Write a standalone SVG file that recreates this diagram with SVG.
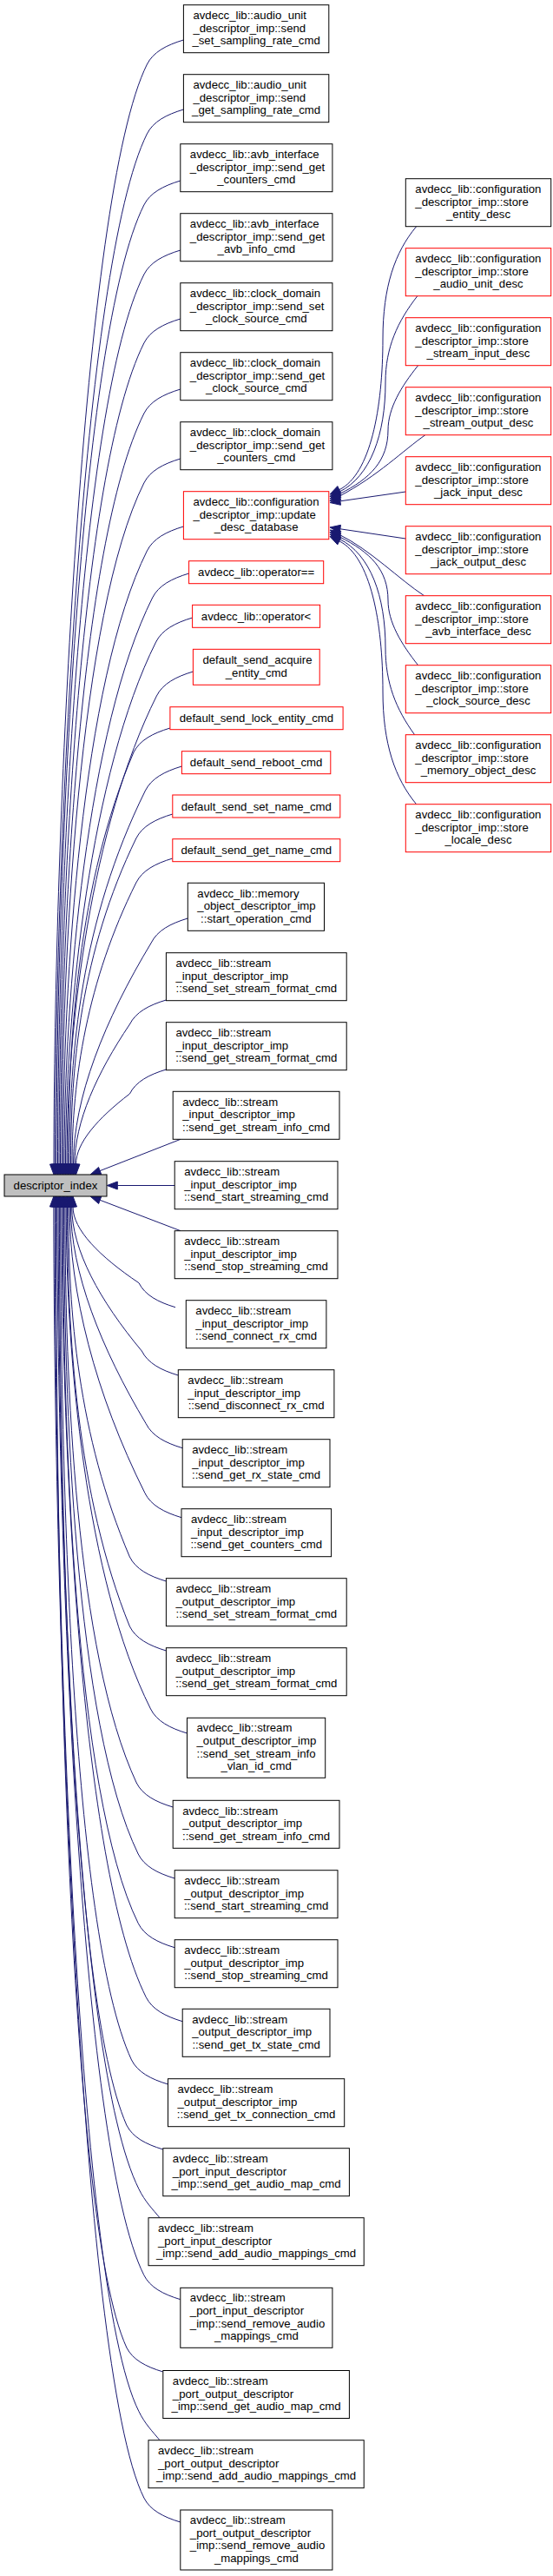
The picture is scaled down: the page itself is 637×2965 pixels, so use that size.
<svg xmlns="http://www.w3.org/2000/svg" width="637" height="2965" viewBox="0 0 637 2965">
<style>
text{font-family:"Liberation Sans",Arial,Helvetica,sans-serif;font-size:13.2px;fill:#000}
.m{text-anchor:middle}
.n{fill:#fff;stroke:#000;stroke-width:1}
.r{fill:#fff;stroke:#ff0000;stroke-width:1}
.g{fill:#bfbfbf;stroke:#000;stroke-width:1}
.e path{fill:none;stroke:#191970;stroke-width:1}
.e polygon{fill:#191970;stroke:#191970;stroke-width:1}
</style>
<rect x="0" y="0" width="637" height="2965" fill="#fff"/>
<g id="edges" class="e">
<path d="M211.4,46 C191.4,52 176.4,60 169.4,74 C94.4,224 62,960.2 62,1340"/><polygon points="57.5,1340 62,1352 66.5,1340"/>
<path d="M211.4,126 C191.4,132 176.4,140 169.4,154 C94.4,304 63.5,984.2 63.5,1340"/><polygon points="59,1340 63.5,1352 68,1340"/>
<path d="M207.8,208 C187.8,214 172.8,222 165.8,236 C90.8,386 65,1008.8 65,1340"/><polygon points="60.5,1340 65,1352 69.5,1340"/>
<path d="M207.8,288 C187.8,294 172.8,302 165.8,316 C90.8,466 66.5,1032.8 66.5,1340"/><polygon points="62,1340 66.5,1352 71,1340"/>
<path d="M207.8,367 C187.8,373 172.8,381 165.8,395 C90.8,545 68,1056.5 68,1340"/><polygon points="63.5,1340 68,1352 72.5,1340"/>
<path d="M207.8,448 C187.8,454 172.8,462 165.8,476 C90.8,626 69.5,1080.8 69.5,1340"/><polygon points="65,1340 69.5,1352 74,1340"/>
<path d="M207.8,528 C187.8,534 172.8,542 165.8,556 C90.8,706 71,1104.8 71,1340"/><polygon points="66.5,1340 71,1352 75.5,1340"/>
<path d="M211.4,606 C191.4,612 176.4,620 169.4,634 C94.4,784 72.5,1128.2 72.5,1340"/><polygon points="68,1340 72.5,1352 77,1340"/>
<path d="M217.6,660 C197.6,666 182.6,674 175.6,688 C100.6,838 74,1144.4 74,1340"/><polygon points="69.5,1340 74,1352 78.5,1340"/>
<path d="M221.6,711 C201.6,717 186.6,725 179.6,739 C104.6,889 75.5,1159.7 75.5,1340"/><polygon points="71,1340 75.5,1352 80,1340"/>
<path d="M222.4,773 C202.4,779 187.4,787 180.4,801 C105.4,951 77,1178.3 77,1340"/><polygon points="72.5,1340 77,1352 81.5,1340"/>
<path d="M195.9,838 C175.9,844 160.9,852 153.9,866 C89.8,1016 78.5,1197.8 78.5,1340"/><polygon points="74,1340 78.5,1352 83,1340"/>
<path d="M209.4,882 C189.4,888 174.4,896 167.4,910 C93.1,1060 80,1211 80,1340"/><polygon points="75.5,1340 80,1352 84.5,1340"/>
<path d="M198.8,937 C178.8,943 163.8,951 156.8,965 C92.8,1096.3 81.5,1227.5 81.5,1340"/><polygon points="77,1340 81.5,1352 86,1340"/>
<path d="M198.8,988 C178.8,994 163.8,1002 156.8,1016 C100.1,1129.4 83,1242.8 83,1340"/><polygon points="78.5,1340 83,1352 87.5,1340"/>
<path d="M216.3,1057 C196.3,1063 181.3,1071 174.3,1085 C120.4,1174.3 84.5,1263.5 84.5,1340"/><polygon points="80,1340 84.5,1352 89,1340"/>
<path d="M191.4,1151 C171.4,1157 156.4,1165 149.4,1179 C111.4,1235.4 86,1291.7 86,1340"/><polygon points="81.5,1340 86,1352 90.5,1340"/>
<path d="M191.4,1231 C171.4,1237 156.4,1245 149.4,1259 C112.3,1287.4 87.5,1315.7 87.5,1340"/><polygon points="83,1340 87.5,1352 92,1340"/>
<path d="M208,1311.3 L115.2,1347.6"/><polygon points="113.5,1343.4 104,1352 116.8,1351.8"/>
<path d="M201.2,1364.5 L135.3,1364.5"/><polygon points="135.3,1360 123.3,1364.5 135.3,1369"/>
<path d="M208,1416.7 L115.2,1381.3"/><polygon points="116.8,1377.1 104,1377 113.6,1385.5"/>
<path d="M202,1504.7 C182,1498.7 167,1490.7 160,1476.7 C114.4,1446 84,1415.3 84,1389"/><polygon points="79.5,1389 84,1377 88.5,1389"/>
<path d="M205.3,1583 C185.3,1577 170.3,1569 163.3,1555 C114.9,1496.9 82.7,1438.8 82.7,1389"/><polygon points="78.2,1389 82.7,1377 87.2,1389"/>
<path d="M210.2,1666.7 C190.2,1660.7 175.2,1652.7 168.2,1638.7 C116.1,1551.3 81.4,1463.9 81.4,1389"/><polygon points="76.9,1389 81.4,1377 85.9,1389"/>
<path d="M209,1746.7 C189,1740.7 174,1732.7 167,1718.7 C109.3,1603.3 80.1,1487.9 80.1,1389"/><polygon points="75.6,1389 80.1,1377 84.6,1389"/>
<path d="M191.4,1820 C171.4,1814 156.4,1806 149.4,1792 C89.4,1651 78.8,1509.9 78.8,1389"/><polygon points="74.3,1389 78.8,1377 83.3,1389"/>
<path d="M191.4,1900 C171.4,1894 156.4,1886 149.4,1872 C88.3,1722 77.5,1533.9 77.5,1389"/><polygon points="73,1389 77.5,1377 82,1389"/>
<path d="M215.5,1995 C195.5,1989 180.5,1981 173.5,1967 C98.5,1817 76.2,1562.4 76.2,1389"/><polygon points="71.7,1389 76.2,1377 80.7,1389"/>
<path d="M199.2,2080 C179.2,2074 164.2,2066 157.2,2052 C87.2,1902 74.9,1587.9 74.9,1389"/><polygon points="70.4,1389 74.9,1377 79.4,1389"/>
<path d="M201.2,2162 C181.2,2156 166.2,2148 159.2,2134 C86.4,1984 73.6,1612.5 73.6,1389"/><polygon points="69.1,1389 73.6,1377 78.1,1389"/>
<path d="M201.2,2241.7 C181.2,2235.7 166.2,2227.7 159.2,2213.7 C85.3,2063.7 72.3,1636.4 72.3,1389"/><polygon points="67.8,1389 72.3,1377 76.8,1389"/>
<path d="M210.2,2326.7 C190.2,2320.7 175.2,2312.7 168.2,2298.7 C93.2,2148.7 71,1661.9 71,1389"/><polygon points="66.5,1389 71,1377 75.5,1389"/>
<path d="M193.5,2399 C173.5,2393 158.5,2385 151.5,2371 C82,2221 69.7,1683.6 69.7,1389"/><polygon points="65.2,1389 69.7,1377 74.2,1389"/>
<path d="M187.8,2474 C167.8,2468 152.8,2460 145.8,2446 C80,2296 68.4,1706.1 68.4,1389"/><polygon points="63.9,1389 68.4,1377 72.9,1389"/>
<path d="M184,2552.7 C176,2543 167,2534 160,2519.7 C85,2369.7 67.1,1728.2 67.1,1389"/><polygon points="62.6,1389 67.1,1377 71.6,1389"/>
<path d="M207.8,2646.7 C187.8,2640.7 172.8,2632.7 165.8,2618.7 C90.8,2468.7 65.8,1757.9 65.8,1389"/><polygon points="61.3,1389 65.8,1377 70.3,1389"/>
<path d="M187.8,2730 C167.8,2724 152.8,2716 145.8,2702 C76.7,2552 64.5,1782.9 64.5,1389"/><polygon points="60,1389 64.5,1377 69,1389"/>
<path d="M184,2808.7 C176,2799 167,2790 160,2775.7 C85,2625.7 63.2,1805 63.2,1389"/><polygon points="58.7,1389 63.2,1377 67.7,1389"/>
<path d="M207.8,2903 C187.8,2897 172.8,2889 165.8,2875 C90.8,2725 61.9,1834.8 61.9,1389"/><polygon points="57.4,1389 61.9,1377 66.4,1389"/>
<path d="M479.6,260.7 C455,290 441,330 441,390 C441,470 426.7,546 390.8,563.7"/><polygon points="388.8,559.6 380,569 392.8,567.7"/>
<path d="M480.8,340.7 C458,370 444,400 444,440 C444,500 426.7,548.5 390.8,566.2"/><polygon points="388.8,562.1 380,571.5 392.8,570.2"/>
<path d="M481.6,420.7 C462,445 447,470 447,495 C447,530 426.7,551 390.8,568.7"/><polygon points="388.8,564.6 380,574 392.8,572.7"/>
<path d="M489.8,500.7 C465,518 435,548 390.8,571.2"/><polygon points="388.8,567.1 380,576.5 392.8,575.2"/>
<path d="M467.3,566 L391.9,576.8"/><polygon points="391.3,572.3 380,578.5 392.5,581.3"/>
<path d="M467.3,620 L391.9,608.8"/><polygon points="392.5,604.3 380,607 391.2,613.2"/>
<path d="M488.6,685.7 C460,667 426.7,633 390.8,615.3"/><polygon points="392.8,611.3 380,610 388.8,619.4"/>
<path d="M481.6,765.7 C462,741 447,716 447,691 C447,656 426.7,635.5 390.8,617.8"/><polygon points="392.8,613.8 380,612.5 388.8,621.9"/>
<path d="M477.6,845.7 C456,816 444,786 444,746 C444,686 426.7,638 390.8,620.3"/><polygon points="392.8,616.3 380,615 388.8,624.4"/>
<path d="M479.6,925.7 C455,896 441,856 441,796 C441,716 426.7,640.5 390.8,622.8"/><polygon points="392.8,618.8 380,617.5 388.8,626.9"/>
</g>
<g id="n0"><rect class="g" x="5" y="1352" width="118" height="25"/><text class="m" x="64" y="1369">descriptor_index</text></g>
<g id="n1"><rect class="n" x="211.4" y="5.7" width="167.4" height="55"/><text x="222.4" y="22">avdecc_lib::audio_unit</text><text x="222.4" y="36.7">_descriptor_imp::send</text><text class="m" x="295.1" y="51.4">_set_sampling_rate_cmd</text></g>
<g id="n2"><rect class="n" x="211.4" y="85.7" width="167.4" height="55"/><text x="222.4" y="102">avdecc_lib::audio_unit</text><text x="222.4" y="116.7">_descriptor_imp::send</text><text class="m" x="295.1" y="131.4">_get_sampling_rate_cmd</text></g>
<g id="n3"><rect class="n" x="207.8" y="165.7" width="175.1" height="55"/><text x="218.8" y="182">avdecc_lib::avb_interface</text><text x="218.8" y="196.7">_descriptor_imp::send_get</text><text class="m" x="295.35" y="211.4">_counters_cmd</text></g>
<g id="n4"><rect class="n" x="207.8" y="245.7" width="175.1" height="55"/><text x="218.8" y="262">avdecc_lib::avb_interface</text><text x="218.8" y="276.7">_descriptor_imp::send_get</text><text class="m" x="295.35" y="291.4">_avb_info_cmd</text></g>
<g id="n5"><rect class="n" x="207.8" y="325.7" width="175.1" height="55"/><text x="218.8" y="342">avdecc_lib::clock_domain</text><text x="218.8" y="356.7">_descriptor_imp::send_set</text><text class="m" x="295.35" y="371.4">_clock_source_cmd</text></g>
<g id="n6"><rect class="n" x="207.8" y="405.7" width="175.1" height="55"/><text x="218.8" y="422">avdecc_lib::clock_domain</text><text x="218.8" y="436.7">_descriptor_imp::send_get</text><text class="m" x="295.35" y="451.4">_clock_source_cmd</text></g>
<g id="n7"><rect class="n" x="207.8" y="485.7" width="175.1" height="55"/><text x="218.8" y="502">avdecc_lib::clock_domain</text><text x="218.8" y="516.7">_descriptor_imp::send_get</text><text class="m" x="295.35" y="531.4">_counters_cmd</text></g>
<g id="n8"><rect class="r" x="211.4" y="565.7" width="167.4" height="55"/><text x="222.4" y="582">avdecc_lib::configuration</text><text x="222.4" y="596.7">_descriptor_imp::update</text><text class="m" x="295.1" y="611.4">_desc_database</text></g>
<g id="n9"><rect class="r" x="217.6" y="645.7" width="155.1" height="26"/><text class="m" x="295.15" y="663.2">avdecc_lib::operator==</text></g>
<g id="n10"><rect class="r" x="221.6" y="696.3" width="147" height="26"/><text class="m" x="295.1" y="713.8">avdecc_lib::operator&lt;</text></g>
<g id="n11"><rect class="r" x="222.4" y="747.3" width="145.8" height="41"/><text x="233.4" y="763.9">default_send_acquire</text><text class="m" x="295.3" y="778.6">_entity_cmd</text></g>
<g id="n12"><rect class="r" x="195.9" y="813.7" width="199.2" height="26"/><text class="m" x="295.5" y="831.2">default_send_lock_entity_cmd</text></g>
<g id="n13"><rect class="r" x="209.4" y="864.7" width="171.4" height="26"/><text class="m" x="295.1" y="882.2">default_send_reboot_cmd</text></g>
<g id="n14"><rect class="r" x="198.8" y="915" width="193" height="26"/><text class="m" x="295.3" y="932.5">default_send_set_name_cmd</text></g>
<g id="n15"><rect class="r" x="198.8" y="965.7" width="193" height="26"/><text class="m" x="295.3" y="983.2">default_send_get_name_cmd</text></g>
<g id="n16"><rect class="n" x="216.3" y="1016.3" width="157.2" height="55"/><text x="227.3" y="1032.6">avdecc_lib::memory</text><text x="227.3" y="1047.3">_object_descriptor_imp</text><text class="m" x="294.9" y="1062">::start_operation_cmd</text></g>
<g id="n17"><rect class="n" x="191.4" y="1096.7" width="207.8" height="55"/><text x="202.4" y="1113">avdecc_lib::stream</text><text x="202.4" y="1127.7">_input_descriptor_imp</text><text class="m" x="295.3" y="1142.4">::send_set_stream_format_cmd</text></g>
<g id="n18"><rect class="n" x="191.4" y="1176.7" width="207.8" height="55"/><text x="202.4" y="1193">avdecc_lib::stream</text><text x="202.4" y="1207.7">_input_descriptor_imp</text><text class="m" x="295.3" y="1222.4">::send_get_stream_format_cmd</text></g>
<g id="n19"><rect class="n" x="199.2" y="1256.3" width="191.8" height="55"/><text x="210.2" y="1272.6">avdecc_lib::stream</text><text x="210.2" y="1287.3">_input_descriptor_imp</text><text class="m" x="295.1" y="1302">::send_get_stream_info_cmd</text></g>
<g id="n20"><rect class="n" x="201.2" y="1336.7" width="187.8" height="55"/><text x="212.2" y="1353">avdecc_lib::stream</text><text x="212.2" y="1367.7">_input_descriptor_imp</text><text class="m" x="295.1" y="1382.4">::send_start_streaming_cmd</text></g>
<g id="n21"><rect class="n" x="201.2" y="1416.7" width="187.8" height="55"/><text x="212.2" y="1433">avdecc_lib::stream</text><text x="212.2" y="1447.7">_input_descriptor_imp</text><text class="m" x="295.1" y="1462.4">::send_stop_streaming_cmd</text></g>
<g id="n22"><rect class="n" x="214.3" y="1496.7" width="161.6" height="55"/><text x="225.3" y="1513">avdecc_lib::stream</text><text x="225.3" y="1527.7">_input_descriptor_imp</text><text class="m" x="295.1" y="1542.4">::send_connect_rx_cmd</text></g>
<g id="n23"><rect class="n" x="205.3" y="1576.7" width="179.6" height="55"/><text x="216.3" y="1593">avdecc_lib::stream</text><text x="216.3" y="1607.7">_input_descriptor_imp</text><text class="m" x="295.1" y="1622.4">::send_disconnect_rx_cmd</text></g>
<g id="n24"><rect class="n" x="210.2" y="1656.7" width="169.8" height="55"/><text x="221.2" y="1673">avdecc_lib::stream</text><text x="221.2" y="1687.7">_input_descriptor_imp</text><text class="m" x="295.1" y="1702.4">::send_get_rx_state_cmd</text></g>
<g id="n25"><rect class="n" x="209" y="1736.7" width="172.6" height="55"/><text x="220" y="1753">avdecc_lib::stream</text><text x="220" y="1767.7">_input_descriptor_imp</text><text class="m" x="295.3" y="1782.4">::send_get_counters_cmd</text></g>
<g id="n26"><rect class="n" x="191.4" y="1816.7" width="207.8" height="55"/><text x="202.4" y="1833">avdecc_lib::stream</text><text x="202.4" y="1847.7">_output_descriptor_imp</text><text class="m" x="295.3" y="1862.4">::send_set_stream_format_cmd</text></g>
<g id="n27"><rect class="n" x="191.4" y="1896.7" width="207.8" height="55"/><text x="202.4" y="1913">avdecc_lib::stream</text><text x="202.4" y="1927.7">_output_descriptor_imp</text><text class="m" x="295.3" y="1942.4">::send_get_stream_format_cmd</text></g>
<g id="n28"><rect class="n" x="215.5" y="1977.3" width="159.2" height="69"/><text x="226.5" y="1993.2">avdecc_lib::stream</text><text x="226.5" y="2007.9">_output_descriptor_imp</text><text x="226.5" y="2022.6">::send_set_stream_info</text><text class="m" x="295.1" y="2037.3">_vlan_id_cmd</text></g>
<g id="n29"><rect class="n" x="199.2" y="2072.3" width="191.8" height="55"/><text x="210.2" y="2088.6">avdecc_lib::stream</text><text x="210.2" y="2103.3">_output_descriptor_imp</text><text class="m" x="295.1" y="2118">::send_get_stream_info_cmd</text></g>
<g id="n30"><rect class="n" x="201.2" y="2152.7" width="187.8" height="55"/><text x="212.2" y="2169">avdecc_lib::stream</text><text x="212.2" y="2183.7">_output_descriptor_imp</text><text class="m" x="295.1" y="2198.4">::send_start_streaming_cmd</text></g>
<g id="n31"><rect class="n" x="201.2" y="2232.7" width="187.8" height="55"/><text x="212.2" y="2249">avdecc_lib::stream</text><text x="212.2" y="2263.7">_output_descriptor_imp</text><text class="m" x="295.1" y="2278.4">::send_stop_streaming_cmd</text></g>
<g id="n32"><rect class="n" x="210.2" y="2312.3" width="169.8" height="55"/><text x="221.2" y="2328.6">avdecc_lib::stream</text><text x="221.2" y="2343.3">_output_descriptor_imp</text><text class="m" x="295.1" y="2358">::send_get_tx_state_cmd</text></g>
<g id="n33"><rect class="n" x="193.5" y="2392.7" width="203.2" height="55"/><text x="204.5" y="2409">avdecc_lib::stream</text><text x="204.5" y="2423.7">_output_descriptor_imp</text><text class="m" x="295.1" y="2438.4">::send_get_tx_connection_cmd</text></g>
<g id="n34"><rect class="n" x="187.8" y="2472.7" width="214.6" height="55"/><text x="198.8" y="2489">avdecc_lib::stream</text><text x="198.8" y="2503.7">_port_input_descriptor</text><text class="m" x="295.1" y="2518.4">_imp::send_get_audio_map_cmd</text></g>
<g id="n35"><rect class="n" x="171" y="2552.7" width="248.2" height="55"/><text x="182" y="2569">avdecc_lib::stream</text><text x="182" y="2583.7">_port_input_descriptor</text><text class="m" x="295.1" y="2598.4">_imp::send_add_audio_mappings_cmd</text></g>
<g id="n36"><rect class="n" x="207.8" y="2633.3" width="175.1" height="69"/><text x="218.8" y="2649.2">avdecc_lib::stream</text><text x="218.8" y="2663.9">_port_input_descriptor</text><text x="218.8" y="2678.6">_imp::send_remove_audio</text><text class="m" x="295.35" y="2693.3">_mappings_cmd</text></g>
<g id="n37"><rect class="n" x="187.8" y="2728.5" width="214.6" height="55"/><text x="198.8" y="2744.8">avdecc_lib::stream</text><text x="198.8" y="2759.5">_port_output_descriptor</text><text class="m" x="295.1" y="2774.2">_imp::send_get_audio_map_cmd</text></g>
<g id="n38"><rect class="n" x="171" y="2808.7" width="248.2" height="55"/><text x="182" y="2825">avdecc_lib::stream</text><text x="182" y="2839.7">_port_output_descriptor</text><text class="m" x="295.1" y="2854.4">_imp::send_add_audio_mappings_cmd</text></g>
<g id="n39"><rect class="n" x="207.8" y="2889" width="175.1" height="69"/><text x="218.8" y="2904.9">avdecc_lib::stream</text><text x="218.8" y="2919.6">_port_output_descriptor</text><text x="218.8" y="2934.3">_imp::send_remove_audio</text><text class="m" x="295.35" y="2949">_mappings_cmd</text></g>
<g id="r1"><rect class="n" x="467.3" y="205.7" width="167.4" height="55"/><text x="478.3" y="222">avdecc_lib::configuration</text><text x="478.3" y="236.7">_descriptor_imp::store</text><text class="m" x="551" y="251.4">_entity_desc</text></g>
<g id="r2"><rect class="r" x="467.3" y="285.7" width="167.4" height="55"/><text x="478.3" y="302">avdecc_lib::configuration</text><text x="478.3" y="316.7">_descriptor_imp::store</text><text class="m" x="551" y="331.4">_audio_unit_desc</text></g>
<g id="r3"><rect class="r" x="467.3" y="365.7" width="167.4" height="55"/><text x="478.3" y="382">avdecc_lib::configuration</text><text x="478.3" y="396.7">_descriptor_imp::store</text><text class="m" x="551" y="411.4">_stream_input_desc</text></g>
<g id="r4"><rect class="r" x="467.3" y="445.7" width="167.4" height="55"/><text x="478.3" y="462">avdecc_lib::configuration</text><text x="478.3" y="476.7">_descriptor_imp::store</text><text class="m" x="551" y="491.4">_stream_output_desc</text></g>
<g id="r5"><rect class="r" x="467.3" y="525.7" width="167.4" height="55"/><text x="478.3" y="542">avdecc_lib::configuration</text><text x="478.3" y="556.7">_descriptor_imp::store</text><text class="m" x="551" y="571.4">_jack_input_desc</text></g>
<g id="r6"><rect class="r" x="467.3" y="605.7" width="167.4" height="55"/><text x="478.3" y="622">avdecc_lib::configuration</text><text x="478.3" y="636.7">_descriptor_imp::store</text><text class="m" x="551" y="651.4">_jack_output_desc</text></g>
<g id="r7"><rect class="r" x="467.3" y="685.7" width="167.4" height="55"/><text x="478.3" y="702">avdecc_lib::configuration</text><text x="478.3" y="716.7">_descriptor_imp::store</text><text class="m" x="551" y="731.4">_avb_interface_desc</text></g>
<g id="r8"><rect class="r" x="467.3" y="765.7" width="167.4" height="55"/><text x="478.3" y="782">avdecc_lib::configuration</text><text x="478.3" y="796.7">_descriptor_imp::store</text><text class="m" x="551" y="811.4">_clock_source_desc</text></g>
<g id="r9"><rect class="r" x="467.3" y="845.7" width="167.4" height="55"/><text x="478.3" y="862">avdecc_lib::configuration</text><text x="478.3" y="876.7">_descriptor_imp::store</text><text class="m" x="551" y="891.4">_memory_object_desc</text></g>
<g id="r10"><rect class="r" x="467.3" y="925.7" width="167.4" height="55"/><text x="478.3" y="942">avdecc_lib::configuration</text><text x="478.3" y="956.7">_descriptor_imp::store</text><text class="m" x="551" y="971.4">_locale_desc</text></g>
</svg>
